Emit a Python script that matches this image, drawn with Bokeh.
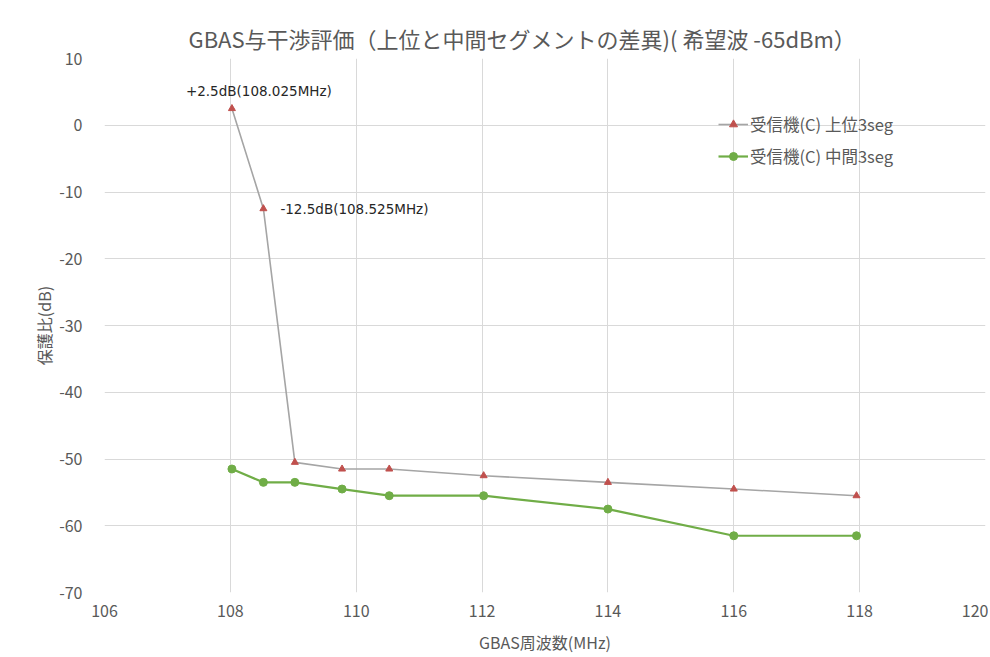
from bokeh.plotting import figure
from bokeh.models import ColumnDataSource, Label, Legend, LegendItem, Range1d, FixedTicker, Title
from bokeh.embed import file_html
from bokeh.resources import INLINE

# data
freq_upper = [108.025, 108.525, 109.025, 109.775, 110.525, 112.025, 114.0, 116.0, 117.95]
ratio_upper = [2.5, -12.5, -50.5, -51.5, -51.5, -52.5, -53.5, -54.5, -55.5]
freq_mid = [108.025, 108.525, 109.025, 109.775, 110.525, 112.025, 114.0, 116.0, 117.95]
ratio_mid = [-51.5, -53.5, -53.5, -54.5, -55.5, -55.5, -57.5, -61.5, -61.5]
x_ticks = [106, 108, 110, 112, 114, 116, 118, 120]
y_ticks = [10, 0, -10, -20, -30, -40, -50, -60, -70]
series_names = ["受信機(C) 上位3seg", "受信機(C) 中間3seg"]
title_text = "GBAS与干渉評価（上位と中間セグメントの差異)( 希望波 -65dBm）"
x_label = "GBAS周波数(MHz)"
y_label = "保護比(dB)"

FONT = "Noto Sans CJK JP"
TXT = "#595959"
GRID = "#d9d9d9"

p = figure(width=988, height=656, output_backend="svg", toolbar_location=None,
           x_range=Range1d(106, 120), y_range=Range1d(-70, 10),
           min_border_left=104, min_border_right=3, min_border_top=58, min_border_bottom=64)
p.outline_line_color = None
p.background_fill_color = "white"
p.border_fill_color = "white"

p.add_layout(Title(text=title_text, text_font=FONT, text_font_size="22px",
                   text_color=TXT, text_font_style="normal", align="left", offset=84,
                   standoff=9), "above")

for ax in (p.xaxis[0], p.yaxis[0]):
    ax.axis_line_color = None
    ax.major_tick_line_color = None
    ax.minor_tick_line_color = None
    ax.major_label_text_font = FONT
    ax.major_label_text_font_size = "16px"
    ax.major_label_text_color = TXT
    ax.axis_label_text_font = FONT
    ax.axis_label_text_font_size = "16px"
    ax.axis_label_text_color = TXT
    ax.axis_label_text_font_style = "normal"

p.xaxis.ticker = FixedTicker(ticks=x_ticks)
p.yaxis.ticker = FixedTicker(ticks=y_ticks)
p.xaxis.major_label_overrides = {t: str(t) for t in x_ticks}
p.yaxis.major_label_overrides = {t: str(t) for t in y_ticks}
p.xaxis.axis_label = x_label
p.yaxis.axis_label = y_label
p.xaxis.major_label_standoff = 6
p.yaxis.major_label_standoff = 16
p.xaxis.axis_label_standoff = 10
p.yaxis.axis_label_standoff = 0

p.xgrid.grid_line_color = GRID
p.ygrid.grid_line_color = GRID

src_u = ColumnDataSource(dict(x=freq_upper, y=ratio_upper))
src_m = ColumnDataSource(dict(x=freq_mid, y=ratio_mid))

lu = p.line("x", "y", source=src_u, line_color="#a5a5a5", line_width=1.6)
su = p.scatter("x", "y", source=src_u, marker="triangle", size=7,
               fill_color="#c0504d", line_color="#c0504d")
lm = p.line("x", "y", source=src_m, line_color="#70ad47", line_width=2.2)
sm = p.scatter("x", "y", source=src_m, marker="circle", size=8,
               fill_color="#70ad47", line_color="#70ad47")

legend = Legend(items=[LegendItem(label=series_names[0], renderers=[lu, su]),
                       LegendItem(label=series_names[1], renderers=[lm, sm])],
                location=(614, 424), border_line_color=None, background_fill_alpha=0,
                label_text_font=FONT, label_text_font_size="16.5px", label_text_color=TXT,
                glyph_width=30, spacing=8, padding=0, label_standoff=2)
p.add_layout(legend)

# annotations
def fmt(v, f):
    return ("+" if v > 0 else "") + f"{v:.1f}dB({f:.3f}MHz)"

p.add_layout(Label(x=freq_upper[0], y=ratio_upper[0], text=fmt(ratio_upper[0], freq_upper[0]),
                   x_offset=-46, y_offset=10, text_font="DejaVu Sans", text_font_size="13.5px",
                   text_color="#262626"))
p.add_layout(Label(x=freq_upper[1], y=ratio_upper[1], text=fmt(ratio_upper[1], freq_upper[1]),
                   x_offset=17, y_offset=-8, text_font="DejaVu Sans", text_font_size="13.5px",
                   text_color="#262626"))

open("out.html", "w").write(file_html(p, INLINE))
